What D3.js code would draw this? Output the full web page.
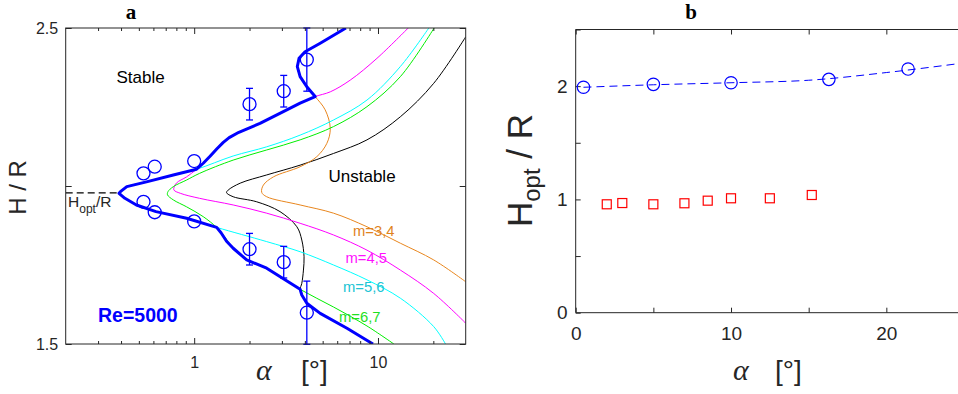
<!DOCTYPE html>
<html>
<head>
<meta charset="UTF-8">
<script src="https://d3js.org/d3.v7.min.js"></script>
<style>
  body { margin: 0; background: #fff; }
  svg { display: block; font-family: "Liberation Sans", Arial, sans-serif; }
  .axis text { fill: #262626; }
  .axis line { stroke: #262626; }
</style>
</head>
<body>
<svg width="958" height="394"></svg>
<script>
// ---- panel a : stability curves (alpha [deg], H/R) ----
const envelope = [[6.69,2.5],[4.85,2.452],[4.01,2.425],[3.72,2.404],[3.64,2.378],[3.77,2.346],[4.10,2.314],[4.55,2.283],
  [3.77,2.262],[3.19,2.241],[2.28,2.198],[1.75,2.170],[1.55,2.153],[1.44,2.138],[1.33,2.118],[1.22,2.094],[1.12,2.072],[1.03,2.053],
  [0.77,2.035],[0.55,2.013],[0.43,1.998],[0.397,1.982],[0.39,1.977],[0.42,1.961],[0.485,1.940],[0.62,1.919],
  [0.91,1.898],[1.325,1.869],[1.40,1.852],[1.50,1.825],[1.63,1.803],[1.93,1.766],[2.48,1.740],[3.77,1.673],[3.85,1.655],
  [4.10,1.629],[4.85,1.597],[6.78,1.550],[9.39,1.5]];
const curveM34 = [[6.69,2.5],[4.85,2.452],[4.01,2.425],[3.72,2.404],[3.64,2.378],[3.77,2.346],[4.10,2.314],[4.55,2.283],
  [5.16,2.241],[5.50,2.182],[5.27,2.135],[4.65,2.093],[3.77,2.061],[2.70,2.029],[2.38,2.003],[2.33,1.980],
  [2.48,1.966],[3.77,1.940],[5.73,1.914],[8.71,1.871],[13.23,1.819],[20.1,1.766],[30,1.697]];
const curveM45 = [[14.6,2.5],[9.87,2.404],[7.06,2.335],[5.50,2.298],[4.55,2.283],[3.77,2.262],[3.19,2.241],[2.28,2.198],
  [1.63,2.161],[1.44,2.140],[1.27,2.108],[1.12,2.072],[1.03,2.053],[0.91,2.029],[0.80,2.009],[0.775,1.988],
  [0.84,1.977],[1.07,1.961],[1.63,1.940],[2.48,1.914],[3.77,1.882],[5.73,1.845],[8.71,1.797],[13.23,1.734],
  [20.1,1.660],[30,1.566]];
const curveM56 = [[18.9,2.5],[13.23,2.378],[8.71,2.272],[5.73,2.209],[3.77,2.161],[2.48,2.124],[1.63,2.095],[1.03,2.053],
  [0.77,2.035],[0.55,2.013],[0.43,1.998],[0.397,1.982],[0.39,1.977],[0.42,1.961],[0.485,1.940],[0.62,1.919],
  [0.91,1.898],[1.325,1.869],[2.48,1.824],[3.77,1.792],[5.73,1.750],[8.71,1.703],[13.23,1.645],[20.1,1.555],[23.3,1.5]];
const curveM67 = [[20.2,2.5],[13.23,2.346],[8.71,2.251],[5.73,2.188],[3.77,2.146],[2.48,2.114],[1.63,2.082],[1.07,2.040],
  [0.91,2.019],[0.77,1.998],[0.72,1.982],[0.716,1.972],[0.77,1.956],[0.91,1.934],[1.12,1.903],[1.325,1.869],
  [1.44,1.845],[1.63,1.803],[1.93,1.766],[2.48,1.740],[3.77,1.673],[5.73,1.617],[8.71,1.557],[12.2,1.5]];
const curveBlack = [[30,2.472],[20.1,2.325],[13.23,2.219],[8.71,2.146],[5.73,2.103],[3.77,2.066],[2.48,2.035],[1.78,2.009],
  [1.53,1.987],[1.50,1.979],[1.63,1.966],[2.19,1.950],[2.93,1.919],[3.62,1.871],[3.85,1.829],[3.96,1.776],
  [3.93,1.734],[3.85,1.692],[3.77,1.673],[3.85,1.655],[4.10,1.629],[4.85,1.597],[6.78,1.550],[9.39,1.5]];

// experiments (circles) with error bars
const expAlpha = [0.53, 0.61, 1, 2, 3.07, 4.1];
const expHUpper = [2.04, 2.061, 2.079, 2.259, 2.30, 2.40];
const expHLower = [1.95, 1.917, 1.888, 1.80, 1.759, 1.599];
const expErr = [0, 0, 0, 0.05, 0.05, 0.10];
const hOpt = 1.978;

const curveLabels = ["m=3,4", "m=4,5", "m=5,6", "m=6,7"];
const xTicksA = [1, 10];
const yTicksA = [1.5, 2, 2.5];

// ---- panel b : H_opt/R vs alpha ----
const bCircAlpha = [0.5, 5, 10, 16.3, 21.4];
const bCircH = [1.99, 2.016, 2.03, 2.06, 2.151];
const bFitAlpha = [0.5, 5, 10, 15, 20, 25];
const bFitH = [1.99, 2.012, 2.03, 2.052, 2.12, 2.205];
const bSqAlpha = [2, 3, 5, 7, 8.5, 10, 12.5, 15.2];
const bSqH = [0.957, 0.968, 0.957, 0.966, 0.989, 1.01, 1.01, 1.039];
const xTicksB = [0, 5, 10, 15, 20, 25];
const yTicksB = [0, 0.5, 1, 1.5, 2, 2.5];

const svg = d3.select("svg");
const ink = "#262626";

// ================= panel a =================
const xA = d3.scaleLog().domain([0.2, 30]).range([65.7, 465.7]);
const yA = d3.scaleLinear().domain([1.5, 2.5]).range([344, 28]);

svg.append("clipPath").attr("id", "clipA").append("rect")
  .attr("x", 65.7).attr("y", 28).attr("width", 400).attr("height", 316);

const gA = svg.append("g");
const plotA = gA.append("g").attr("clip-path", "url(#clipA)");

const lineA = d3.line().x(d => xA(d[0])).y(d => yA(d[1])).curve(d3.curveCatmullRom.alpha(0.5));

const thin = [
  {data: curveBlack, color: "#000000"},
  {data: curveM34, color: "#e8861e"},
  {data: curveM45, color: "#ff00ff"},
  {data: curveM56, color: "#00ffff"},
  {data: curveM67, color: "#00ee00"}
];
thin.forEach(c => {
  plotA.append("path").attr("d", lineA(c.data))
    .attr("fill", "none").attr("stroke", c.color).attr("stroke-width", 1);
});

// H_opt dashed
plotA.append("line")
  .attr("x1", xA(0.2)).attr("x2", xA(0.39))
  .attr("y1", yA(hOpt)).attr("y2", yA(hOpt))
  .attr("stroke", "#000").attr("stroke-width", 1.3).attr("stroke-dasharray", "7,4");

plotA.append("path").attr("d", d3.line().x(d => xA(d[0])).y(d => yA(d[1]))(envelope))
  .attr("fill", "none").attr("stroke", "#0000ff").attr("stroke-width", 3).attr("stroke-linejoin", "round");

// experimental points
const expPts = [];
expAlpha.forEach((a, i) => {
  expPts.push({a: a, h: expHUpper[i], e: expErr[i]});
  expPts.push({a: a, h: expHLower[i], e: expErr[i]});
});
expPts.filter(d => d.e > 0).forEach(d => {
  const x = xA(d.a), y0 = yA(d.h - d.e), y1 = yA(d.h + d.e);
  gA.append("line").attr("x1", x).attr("x2", x).attr("y1", y0).attr("y2", y1)
    .attr("stroke", "#0000ff").attr("stroke-width", 1.3);
  [y0, y1].forEach(y => gA.append("line").attr("x1", x - 3.5).attr("x2", x + 3.5)
    .attr("y1", y).attr("y2", y).attr("stroke", "#0000ff").attr("stroke-width", 1.3));
});
gA.selectAll("circle.exp").data(expPts).enter().append("circle")
  .attr("class", "exp")
  .attr("cx", d => xA(d.a)).attr("cy", d => yA(d.h)).attr("r", 6.5)
  .attr("fill", "none").attr("stroke", "#0000ff").attr("stroke-width", 1.3);

// frame and axes
gA.append("rect").attr("x", 65.7).attr("y", 28).attr("width", 400).attr("height", 316)
  .attr("fill", "none").attr("stroke", ink).attr("stroke-width", 1);

const minorA = [];
[0.1, 1, 10].forEach(dec => d3.range(2, 10).forEach(k => {
  const v = +(k * dec).toPrecision(3);
  if (v > 0.2 && v < 30) minorA.push(v);
}));

function styleAxis(g, size) {
  g.attr("class", "axis").style("font-size", size + "px")
   .style("font-family", "'Liberation Sans', Arial, sans-serif");
  g.select(".domain").remove();
}

gA.append("g").attr("transform", "translate(0,344)")
  .call(d3.axisBottom(xA).tickValues(xTicksA).tickFormat(d3.format("d")).tickSize(-6).tickPadding(12.5))
  .call(g => styleAxis(g, 16));
gA.append("g").attr("transform", "translate(0,344)")
  .call(d3.axisBottom(xA).tickValues(minorA).tickFormat("").tickSize(-3))
  .call(g => styleAxis(g, 16));
gA.append("g").attr("transform", "translate(0,28)")
  .call(d3.axisTop(xA).tickValues(xTicksA).tickFormat("").tickSize(-6))
  .call(g => styleAxis(g, 16));
gA.append("g").attr("transform", "translate(0,28)")
  .call(d3.axisTop(xA).tickValues(minorA).tickFormat("").tickSize(-3))
  .call(g => styleAxis(g, 16));
gA.append("g").attr("transform", "translate(65.7,0)")
  .call(d3.axisLeft(yA).tickValues(yTicksA).tickFormat(d => d === 2 ? "" : d3.format(".1f")(d)).tickSize(-6).tickPadding(7.5))
  .call(g => styleAxis(g, 16));
gA.append("g").attr("transform", "translate(465.7,0)")
  .call(d3.axisRight(yA).tickValues(yTicksA).tickFormat("").tickSize(-6))
  .call(g => styleAxis(g, 16));

// texts in panel a
gA.append("text").attr("x", 131).attr("y", 19).attr("text-anchor", "middle")
  .style("font-family", "'Liberation Serif', 'DejaVu Serif', serif").style("font-weight", "bold")
  .style("font-size", "21px").attr("fill", "#000").text("a");
gA.append("text").attr("x", 116.5).attr("y", 82.5).style("font-size", "17px").attr("fill", "#000").text("Stable");
gA.append("text").attr("x", 328.5).attr("y", 182).style("font-size", "17px").attr("fill", "#000").text("Unstable");
gA.append("text").attr("x", 98).attr("y", 321.5).style("font-size", "19.5px").style("font-weight", "bold")
  .attr("fill", "#0000ff").text("Re=5000");

const hoptT = gA.append("text").attr("x", 68).attr("y", 206.5).style("font-size", "15.5px").attr("fill", ink);
hoptT.append("tspan").text("H");
hoptT.append("tspan").attr("dy", 6).style("font-size", "12px").text("opt");
hoptT.append("tspan").attr("dy", -6).text("/R");

const labelPos = [[353, 236, "#e0821c"], [345.5, 263, "#ff10ff"], [343, 291.5, "#20c4d4"], [339, 321.5, "#1ee01e"]];
curveLabels.forEach((t, i) => {
  gA.append("text").attr("x", labelPos[i][0]).attr("y", labelPos[i][1])
    .style("font-size", "14.8px").attr("fill", labelPos[i][2]).text(t);
});

gA.append("text").attr("transform", "translate(25.5,187.5) rotate(-90)").attr("text-anchor", "middle")
  .style("font-size", "24px").attr("fill", ink).text("H / R");
gA.append("text").attr("x", 256).attr("y", 380)
  .style("font-family", "'Liberation Serif', 'DejaVu Serif', serif").style("font-style", "italic")
  .style("font-size", "30px").attr("fill", ink).text("α");
gA.append("text").attr("x", 301).attr("y", 380).style("font-size", "28px").attr("fill", ink).text("[°]");

// ================= panel b =================
const xB = d3.scaleLinear().domain([0, 25]).range([575.7, 964]);
const yB = d3.scaleLinear().domain([0, 2.5]).range([312.7, 29.5]);
const gB = svg.append("g");

gB.append("line").attr("x1", 575.7).attr("x2", 964).attr("y1", 312.7).attr("y2", 312.7).attr("stroke", ink);
gB.append("line").attr("x1", 575.7).attr("x2", 964).attr("y1", 29.5).attr("y2", 29.5).attr("stroke", ink);
gB.append("line").attr("x1", 575.7).attr("x2", 575.7).attr("y1", 29.5).attr("y2", 312.7).attr("stroke", ink);

gB.append("g").attr("transform", "translate(0,312.7)")
  .call(d3.axisBottom(xB).tickValues(xTicksB).tickFormat(d => d % 10 === 0 ? d : "").tickSize(-5).tickPadding(14))
  .call(g => styleAxis(g, 19));
gB.append("g").attr("transform", "translate(0,29.5)")
  .call(d3.axisTop(xB).tickValues(xTicksB).tickFormat("").tickSize(-5))
  .call(g => styleAxis(g, 19));
gB.append("g").attr("transform", "translate(575.7,0)")
  .call(d3.axisLeft(yB).tickValues(yTicksB).tickFormat(d => Number.isInteger(d) ? d : "").tickSize(-5).tickPadding(8))
  .call(g => styleAxis(g, 19));

const fit = bFitAlpha.map((a, i) => [a, bFitH[i]]);
gB.append("path")
  .attr("d", d3.line().x(d => xB(d[0])).y(d => yB(d[1])).curve(d3.curveMonotoneX)(fit))
  .attr("fill", "none").attr("stroke", "#0000ff").attr("stroke-width", 1).attr("stroke-dasharray", "8,5");

gB.selectAll("circle.b").data(bCircAlpha).enter().append("circle").attr("class", "b")
  .attr("cx", d => xB(d)).attr("cy", (d, i) => yB(bCircH[i])).attr("r", 6.2)
  .attr("fill", "none").attr("stroke", "#0000ff").attr("stroke-width", 1.2);

gB.selectAll("rect.sq").data(bSqAlpha).enter().append("rect").attr("class", "sq")
  .attr("x", d => xB(d) - 4.5).attr("y", (d, i) => yB(bSqH[i]) - 4.5)
  .attr("width", 9).attr("height", 9)
  .attr("fill", "none").attr("stroke", "#ff0000").attr("stroke-width", 1.2);

gB.append("text").attr("x", 691).attr("y", 19).attr("text-anchor", "middle")
  .style("font-family", "'Liberation Serif', 'DejaVu Serif', serif").style("font-weight", "bold")
  .style("font-size", "21px").attr("fill", "#000").text("b");

const yLabB = gB.append("text").attr("transform", "translate(531.5,170.5) rotate(-90)")
  .attr("text-anchor", "middle").style("font-size", "35px").attr("fill", ink);
yLabB.append("tspan").text("H");
yLabB.append("tspan").attr("dy", 8).style("font-size", "24px").text("opt");
yLabB.append("tspan").attr("dy", -8).text(" / R");

gB.append("text").attr("x", 733).attr("y", 380)
  .style("font-family", "'Liberation Serif', 'DejaVu Serif', serif").style("font-style", "italic")
  .style("font-size", "30px").attr("fill", ink).text("α");
gB.append("text").attr("x", 775).attr("y", 380).style("font-size", "28px").attr("fill", ink).text("[°]");
</script>
</body>
</html>
